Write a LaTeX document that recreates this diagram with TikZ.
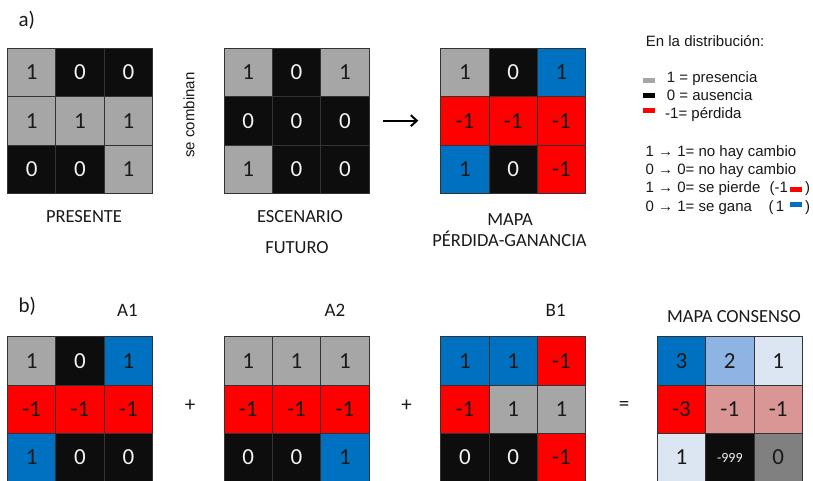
\documentclass[tikz,border=0pt]{standalone}
\usepackage{fontspec}
\setmainfont{Carlito}
\newfontfamily\arialf{Liberation Sans}
\usetikzlibrary{arrows.meta}
\definecolor{cgray}{HTML}{A6A6A6}
\definecolor{cblack}{HTML}{0D0D0D}
\definecolor{cred}{HTML}{FF0000}
\definecolor{cblue}{HTML}{0070C0}
\definecolor{clbA}{HTML}{8EB4E3}
\definecolor{clbB}{HTML}{DCE6F2}
\definecolor{cpink}{HTML}{D99694}
\definecolor{cdgray}{HTML}{808080}
\definecolor{ctxt}{HTML}{1A1A1A}
\definecolor{cwhite}{HTML}{F2F2F2}
\newcommand\C[5]{\node[cellbox,#4] (#1) at ({\gx+24.17+48.33*#2},{\gy+24.17+48.33*#3}) {#5};}
\begin{document}
\begin{tikzpicture}[x=1pt,y=-1pt,
  cellbox/.style={draw=black!80, line width=0.8pt, minimum size=48.33pt, inner sep=0pt,
    font=\fontsize{23}{23}\selectfont},
  cg/.style={fill=cgray,text=ctxt},
  ck/.style={fill=cblack,text=cwhite},
  cr/.style={fill=cred,text=ctxt},
  cb/.style={fill=cblue,text=ctxt},
  cla/.style={fill=clbA,text=ctxt},
  clb/.style={fill=clbB,text=ctxt},
  cpk/.style={fill=cpink,text=ctxt},
  cdg/.style={fill=cdgray,text=ctxt},
  lbl/.style={inner sep=0pt, anchor=base, font=\fontsize{18.5}{20}\selectfont, text=ctxt},
  sec/.style={inner sep=0pt, anchor=base west, font=\fontsize{21}{22}\selectfont, text=ctxt},
  leg/.style={inner sep=0pt, anchor=base west, font=\arialf\fontsize{15}{17}\selectfont, text=black!90},
  legbox/.style={inner sep=0pt, minimum width=12pt, minimum height=5pt},
  op/.style={inner sep=0pt, font=\fontsize{21}{22}\selectfont, text=ctxt}
]
\useasboundingbox (0,0) rectangle (813,480);
\fill[white] (0,0) rectangle (813,480);

% ---------- a) ----------
\node[sec] (la) at (18.3,26.5) {a)};

% PRESENTE
\def\gx{7.5}\def\gy{48.3}
\C{p11}{0}{0}{cg}{1} \C{p12}{1}{0}{ck}{0} \C{p13}{2}{0}{ck}{0}
\C{p21}{0}{1}{cg}{1} \C{p22}{1}{1}{cg}{1} \C{p23}{2}{1}{cg}{1}
\C{p31}{0}{2}{ck}{0} \C{p32}{1}{2}{ck}{0} \C{p33}{2}{2}{cg}{1}

% ESCENARIO FUTURO
\def\gx{224}\def\gy{48.3}
\C{e11}{0}{0}{cg}{1} \C{e12}{1}{0}{ck}{0} \C{e13}{2}{0}{cg}{1}
\C{e21}{0}{1}{ck}{0} \C{e22}{1}{1}{ck}{0} \C{e23}{2}{1}{ck}{0}
\C{e31}{0}{2}{cg}{1} \C{e32}{1}{2}{ck}{0} \C{e33}{2}{2}{ck}{0}

% MAPA PERDIDA-GANANCIA
\def\gx{440.7}\def\gy{48.3}
\C{m11}{0}{0}{cg}{1} \C{m12}{1}{0}{ck}{0} \C{m13}{2}{0}{cb}{1}
\C{m21}{0}{1}{cr}{-1} \C{m22}{1}{1}{cr}{-1} \C{m23}{2}{1}{cr}{-1}
\C{m31}{0}{2}{cb}{1} \C{m32}{1}{2}{ck}{0} \C{m33}{2}{2}{cr}{-1}

\node[leg, anchor=center, rotate=90] (comb) at (189,115) {se combinan};

\coordinate (arS) at (383.3,120.7);
\coordinate (arE) at (418.3,120.7);
\draw[line width=2pt, -{Straight Barb[length=6pt,width=11pt]}] (arS) -- (arE);

\node[lbl] (lpres) at (84,222.7) {PRESENTE};
\node[lbl] (lesc) at (300,222.7) {ESCENARIO};
\node[lbl] (lfut) at (297,253.3) {FUTURO};
\node[lbl] (lmapa) at (510,225) {MAPA};
\node[lbl] (lpg) at (509.5,246.7) {PÉRDIDA-GANANCIA};

% legend
\node[leg] (lt) at (645.7,46.5) {En la distribución:};
\node[legbox, fill=cgray] (lb1) at (648.7,80.8) {};
\node[legbox, fill=black] (lb2) at (648.7,95) {};
\node[legbox, fill=cred] (lb3) at (649,110.2) {};
\node[leg] (l1) at (666.7,82.3) {1 = presencia};
\node[leg] (l2) at (666.7,100.5) {0 = ausencia};
\node[leg] (l3) at (665,118.3) {-1= pérdida};
\node[leg] (l4) at (645.5,156) {1 → 1= no hay cambio};
\node[leg] (l5) at (645.5,174.3) {0 → 0= no hay cambio};
\node[leg] (l6) at (645.5,192.7) {1 → 0= se pierde};
\node[leg] (l6b) at (769.3,192.7) {(-1};
\node[legbox, fill=cred] (lr) at (795.5,189.2) {};
\node[leg] (l6c) at (805,192.7) {)};
\node[leg] (l7) at (645.5,211) {0 → 1= se gana};
\node[leg] (l7b) at (768.3,211) {(\,1};
\node[legbox, fill=cblue] (lbb) at (795.5,204.2) {};
\node[leg] (l7c) at (805,211) {)};

% ---------- b) ----------
\node[sec] (lbb2) at (18.3,312.5) {b)};
\node[lbl, font=\fontsize{19}{20}\selectfont] (lA1) at (127.5,316.5) {A1};
\node[lbl, font=\fontsize{19}{20}\selectfont] (lA2) at (335,316.5) {A2};
\node[lbl, font=\fontsize{19}{20}\selectfont] (lB1) at (555.7,316.5) {B1};
\node[lbl] (lmc) at (734,322.7) {MAPA CONSENSO};

% A1
\def\gx{7.5}\def\gy{336.7}
\C{a11}{0}{0}{cg}{1} \C{a12}{1}{0}{ck}{0} \C{a13}{2}{0}{cb}{1}
\C{a21}{0}{1}{cr}{-1} \C{a22}{1}{1}{cr}{-1} \C{a23}{2}{1}{cr}{-1}
\C{a31}{0}{2}{cb}{1} \C{a32}{1}{2}{ck}{0} \C{a33}{2}{2}{ck}{0}

% A2
\def\gx{224}\def\gy{336.7}
\C{b11}{0}{0}{cg}{1} \C{b12}{1}{0}{cg}{1} \C{b13}{2}{0}{cg}{1}
\C{b21}{0}{1}{cr}{-1} \C{b22}{1}{1}{cr}{-1} \C{b23}{2}{1}{cr}{-1}
\C{b31}{0}{2}{ck}{0} \C{b32}{1}{2}{ck}{0} \C{b33}{2}{2}{cb}{1}

% B1
\def\gx{440.7}\def\gy{336.7}
\C{c11}{0}{0}{cb}{1} \C{c12}{1}{0}{cb}{1} \C{c13}{2}{0}{cr}{-1}
\C{c21}{0}{1}{cr}{-1} \C{c22}{1}{1}{cg}{1} \C{c23}{2}{1}{cg}{1}
\C{c31}{0}{2}{ck}{0} \C{c32}{1}{2}{ck}{0} \C{c33}{2}{2}{cr}{-1}

% MAPA CONSENSO
\def\gx{657.3}\def\gy{336.7}
\C{k11}{0}{0}{cb}{3} \C{k12}{1}{0}{cla}{2} \C{k13}{2}{0}{clb}{1}
\C{k21}{0}{1}{cr}{-3} \C{k22}{1}{1}{cpk}{-1} \C{k23}{2}{1}{cpk}{-1}
\C{k31}{0}{2}{clb}{1} \C{k32}{1}{2}{ck,font=\fontsize{14}{14}\selectfont}{-999} \C{k33}{2}{2}{cdg}{0}

\node[op] (plus1) at (190,406) {+};
\node[op] (plus2) at (406.5,406) {+};
\node[op] (eq) at (624,406) {=};
\end{tikzpicture}
\end{document}
